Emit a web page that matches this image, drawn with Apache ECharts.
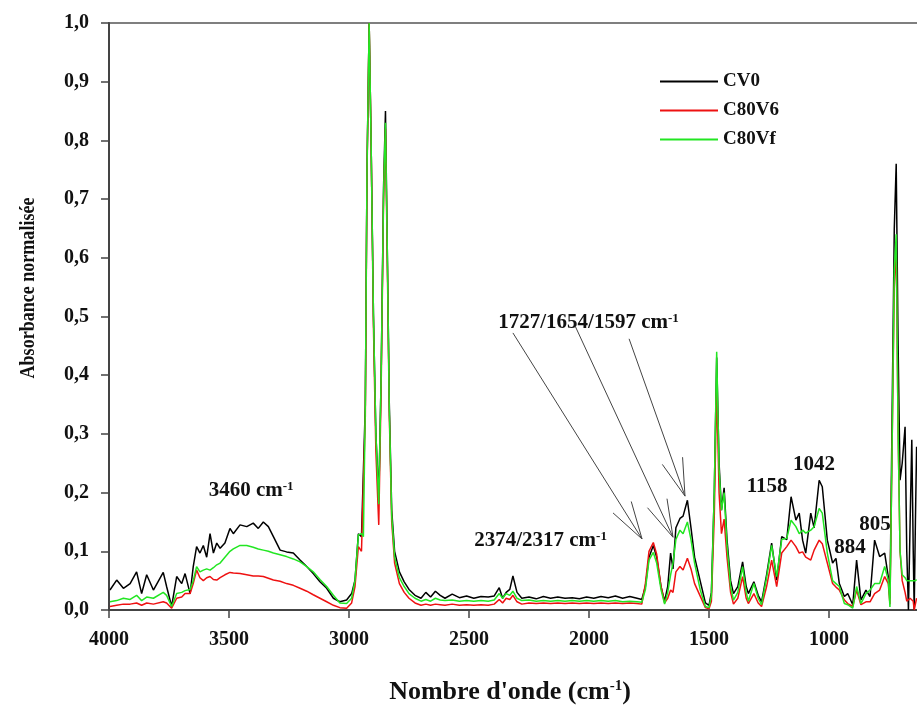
<!DOCTYPE html>
<html>
<head>
<meta charset="utf-8">
<title>Absorbance normalisée</title>
<script src="https://cdn.jsdelivr.net/npm/echarts@6.0.0/dist/echarts.min.js"></script>
<style>
  html, body { margin: 0; padding: 0; background: #fff; }
  #main { width: 917px; height: 710px; }
</style>
</head>
<body>
<div id="main"></div>
<script>
// nombres d'onde (cm-1)
var wn = [
  3996,3968,3940,3912,3885, 3864,3843,3815,3774,3760, 3739,3718,3697,3683,3662, 3649,3635,3621,3607,3593,
  3579,3565,3551,3537,3517, 3496,3482,3454,3426,3399, 3378,3357,3336,3315,3287, 3260,3232,3204,3176,3149,
  3121,3093,3065,3038,3010, 2989,2975,2961,2948,2940,
  2932,2925,2916,2908,2898, 2888,2876,2866,2856,2848, 2840,2832,2822,2810,2790, 2770,2750,2725,2700,
  2680,2660,2640,2620,2600, 2570,2540,2510,2480,2450, 2420,2395,2374,2360,2345, 2330,2317,2300,
  2280,2250,2220,2190,2160, 2130,2100,2070,2040,2010, 1980,1950,1920,1890,1860, 1830,1800,1780,
  1765,1750,1732,1718,1700, 1685,1672,1660,1650,1638, 1621,1608,1590,1575,1560, 1537,1515,1500,
  1490,1478,1468,1458,1448, 1437,1425,1410,1398,1380, 1360,1345,1336,1313,1295, 1281,
  1260,1239,1218,1197,1176, 1158,1138,1124,1110,1097, 1076,1062,1041,1028,1007, 985,971,957,
  936,922,901,885,867, 846,829,810,789,768, 753,746,
  738,728,720,712,704, 695,683,676,669,662, 655,649,645,640,635
];

var cv0 = [
  0.034,0.051,0.037,0.045,0.065, 0.028,0.06,0.034,0.064,0.04, 0.006,0.057,0.045,0.062,0.028, 0.074,0.108,0.097,0.11,0.09,
  0.13,0.097,0.114,0.105,0.114, 0.139,0.13,0.145,0.142,0.148, 0.139,0.15,0.142,0.125,0.102, 0.099,0.097,0.085,0.074,0.062,
  0.048,0.037,0.02,0.014,0.017, 0.028,0.051,0.13,0.125,0.122,
  0.35,0.75,1.0,0.8,0.5, 0.3,0.19,0.4,0.72,0.85, 0.6,0.35,0.17,0.1,0.065, 0.048,0.035,0.025,0.02,
  0.03,0.022,0.032,0.025,0.02, 0.027,0.021,0.024,0.02,0.023, 0.022,0.024,0.038,0.02,0.03, 0.035,0.058,0.03,
  0.02,0.022,0.019,0.023,0.02, 0.022,0.02,0.021,0.019,0.022, 0.02,0.023,0.021,0.024,0.02, 0.023,0.02,0.018,
  0.04,0.09,0.11,0.09,0.04, 0.015,0.04,0.097,0.07,0.14, 0.156,0.16,0.187,0.14,0.09, 0.05,0.012,0.008,
  0.03,0.2,0.43,0.25,0.17, 0.208,0.12,0.05,0.028,0.04, 0.082,0.04,0.028,0.048,0.025, 0.014,
  0.06,0.114,0.051,0.125,0.12, 0.193,0.153,0.165,0.119,0.097, 0.165,0.14,0.221,0.21,0.119, 0.08,0.088,0.045,
  0.023,0.028,0.009,0.085,0.017, 0.034,0.023,0.119,0.091,0.097, 0.057,0.02,
  0.3,0.65,0.76,0.45,0.221, 0.25,0.312,0.1,0.0,0.15, 0.29,0.1,0.0,0.15,0.278
];

var c80v6 = [
  0.006,0.008,0.01,0.01,0.012, 0.008,0.012,0.01,0.014,0.012, 0.003,0.02,0.022,0.028,0.028, 0.045,0.068,0.055,0.05,0.055,
  0.057,0.052,0.051,0.055,0.06, 0.064,0.063,0.062,0.06,0.058, 0.058,0.057,0.054,0.051,0.049, 0.045,0.042,0.037,0.032,0.026,
  0.02,0.014,0.008,0.004,0.003, 0.012,0.04,0.108,0.1,0.097,
  0.33,0.74,1.0,0.8,0.48, 0.27,0.145,0.38,0.7,0.82, 0.58,0.33,0.15,0.08,0.045, 0.03,0.02,0.012,0.008,
  0.01,0.008,0.01,0.009,0.008, 0.01,0.008,0.009,0.008,0.009, 0.008,0.01,0.018,0.012,0.02, 0.018,0.025,0.014,
  0.01,0.012,0.011,0.012,0.011, 0.012,0.011,0.012,0.011,0.012, 0.011,0.012,0.011,0.012,0.011, 0.012,0.011,0.01,
  0.045,0.1,0.115,0.095,0.04, 0.012,0.02,0.034,0.03,0.065, 0.074,0.068,0.088,0.07,0.045, 0.024,0.004,0.002,
  0.015,0.16,0.38,0.2,0.13, 0.155,0.09,0.03,0.01,0.02, 0.057,0.02,0.011,0.028,0.012, 0.006,
  0.04,0.085,0.04,0.097,0.108, 0.119,0.108,0.097,0.099,0.09, 0.085,0.102,0.119,0.113,0.08, 0.045,0.039,0.034,
  0.017,0.011,0.006,0.034,0.009, 0.014,0.014,0.028,0.034,0.057, 0.045,0.01,
  0.25,0.55,0.62,0.3,0.1, 0.05,0.03,0.015,0.012,0.02, 0.02,0.015,0.0,0.01,0.02
];

var c80vf = [
  0.014,0.016,0.02,0.018,0.025, 0.016,0.022,0.02,0.03,0.025, 0.006,0.028,0.03,0.033,0.035, 0.05,0.074,0.065,0.068,0.07,
  0.068,0.072,0.077,0.08,0.09, 0.1,0.104,0.11,0.11,0.107, 0.104,0.102,0.1,0.097,0.094, 0.091,0.087,0.082,0.074,0.065,
  0.052,0.04,0.025,0.012,0.011, 0.02,0.05,0.128,0.13,0.125,
  0.35,0.75,1.0,0.8,0.5, 0.3,0.18,0.4,0.71,0.83, 0.6,0.34,0.16,0.09,0.055, 0.04,0.028,0.02,0.015,
  0.018,0.015,0.02,0.017,0.016, 0.017,0.015,0.016,0.015,0.016, 0.015,0.017,0.028,0.02,0.028, 0.025,0.032,0.02,
  0.016,0.017,0.015,0.016,0.015, 0.016,0.015,0.016,0.015,0.016, 0.015,0.016,0.015,0.016,0.014, 0.015,0.014,0.013,
  0.035,0.085,0.098,0.08,0.035, 0.01,0.03,0.06,0.08,0.12, 0.136,0.13,0.15,0.12,0.08, 0.035,0.006,0.004,
  0.025,0.2,0.44,0.24,0.17, 0.2,0.11,0.04,0.017,0.03, 0.074,0.03,0.015,0.045,0.02, 0.009,
  0.055,0.11,0.057,0.12,0.122, 0.153,0.142,0.13,0.136,0.131, 0.136,0.142,0.173,0.165,0.097, 0.05,0.045,0.04,
  0.011,0.009,0.003,0.04,0.011, 0.028,0.034,0.045,0.045,0.074, 0.051,0.005,
  0.25,0.58,0.64,0.3,0.1, 0.06,0.055,0.05,0.048,0.05, 0.052,0.05,0.048,0.05,0.052
];

var seriesNames = ['CV0', 'C80V6', 'C80Vf'];
var xTicks = [4000, 3500, 3000, 2500, 2000, 1500, 1000];

// annotations (en coordonnées des données)
var noteText = ['3460 cm{sup|-1}', '2374/2317 cm{sup|-1}', '1727/1654/1597 cm{sup|-1}', '1158', '1042', '884', '805'];
var noteWn = [3408, 2202, 2002, 1258, 1062, 912, 808];
var noteAbs = [0.204, 0.119, 0.49, 0.21, 0.247, 0.106, 0.145];
var arrowFrom = [[2317, 0.472], [2058, 0.484], [1833, 0.462]];
var arrowTo = [[1779, 0.121], [1650, 0.124], [1600, 0.194]];

var FONT = '"Liberation Serif", "Times New Roman", serif';
var AXIS_COLOR = '#444';

function pairs(vals) {
    return wn.map(function (w, i) { return [w, vals[i]]; });
}

var myChart = echarts.init(document.getElementById('main'));

var option = {
    animation: false,
    // la figure d'origine est rognée à droite : la zone de tracé dépasse le canevas
    grid: {
        left: 109, top: 23, width: 840, height: 587,
        outerBoundsMode: 'none',
        show: true, borderColor: '#555', borderWidth: 1.5
    },
    legend: {
        orient: 'vertical',
        left: 660, top: 72, padding: 0,
        itemWidth: 58, itemHeight: 20, itemGap: 10,
        icon: 'path://M0,0 L58,0 L58,2 L0,2 Z',
        textStyle: {fontFamily: FONT, fontWeight: 'bold', fontSize: 19, color: '#111'},
        data: seriesNames
    },
    xAxis: {
        type: 'value',
        inverse: true,
        min: 500, max: 4000, interval: 500,
        axisLine: {lineStyle: {color: AXIS_COLOR, width: 2}},
        axisTick: {length: 8, lineStyle: {color: AXIS_COLOR, width: 1.5}, customValues: xTicks},
        axisLabel: {
            margin: 20, fontFamily: FONT, fontWeight: 'bold', fontSize: 20, color: '#111',
            customValues: xTicks,
            formatter: function (v) { return String(v); }
        },
        splitLine: {show: false}
    },
    yAxis: {
        type: 'value',
        min: 0, max: 1, interval: 0.1,
        axisLine: {show: true, lineStyle: {color: AXIS_COLOR, width: 2}},
        axisTick: {show: true, length: 8, lineStyle: {color: AXIS_COLOR, width: 1.5}},
        axisLabel: {
            margin: 20, fontFamily: FONT, fontWeight: 'bold', fontSize: 20, color: '#111',
            formatter: function (v) { return v.toFixed(1).replace('.', ','); }
        },
        splitLine: {show: false}
    },
    series: [
        {name: 'CV0', type: 'line', data: pairs(cv0), color: '#000000'},
        {name: 'C80V6', type: 'line', data: pairs(c80v6), color: '#ee1111'},
        {name: 'C80Vf', type: 'line', data: pairs(c80vf), color: '#22e622'}
    ].map(function (s) {
        s.symbol = 'none';
        s.showSymbol = false;
        s.lineStyle = {width: 1.5};
        s.clip = true;
        return s;
    })
};

myChart.setOption(option);

// textes et flèches placés via les axes
var textRich = {
    sup: {fontFamily: FONT, fontWeight: 'bold', fontSize: 13, verticalAlign: 'top', fill: '#111'}
};
var els = [];
noteText.forEach(function (t, i) {
    var p = myChart.convertToPixel({xAxisIndex: 0, yAxisIndex: 0}, [noteWn[i], noteAbs[i]]);
    els.push({
        type: 'text', x: p[0], y: p[1],
        style: {
            text: t, fill: '#111', font: 'bold 21px ' + FONT,
            align: 'center', verticalAlign: 'middle', rich: textRich
        }
    });
});
arrowFrom.forEach(function (a, i) {
    var p0 = myChart.convertToPixel({xAxisIndex: 0, yAxisIndex: 0}, a);
    var p1 = myChart.convertToPixel({xAxisIndex: 0, yAxisIndex: 0}, arrowTo[i]);
    var lineStyle = {stroke: '#444', lineWidth: 1};
    els.push({type: 'line', shape: {x1: p0[0], y1: p0[1], x2: p1[0], y2: p1[1]}, style: lineStyle});
    var ang = Math.atan2(p0[1] - p1[1], p0[0] - p1[0]);
    [-1, 1].forEach(function (sgn) {
        var b = ang + sgn * 16 * Math.PI / 180;
        els.push({
            type: 'line',
            shape: {x1: p1[0], y1: p1[1], x2: p1[0] + 39 * Math.cos(b), y2: p1[1] + 39 * Math.sin(b)},
            style: lineStyle
        });
    });
});
// titres des axes
els.push({
    type: 'text', x: 510, y: 692,
    style: {
        text: "Nombre d'onde (cm{sup|-1})", fill: '#111', font: 'bold 26px ' + FONT,
        align: 'center', verticalAlign: 'middle',
        rich: {sup: {fontFamily: FONT, fontWeight: 'bold', fontSize: 15, verticalAlign: 'top', fill: '#111'}}
    }
});
els.push({
    type: 'text', x: 28, y: 288, rotation: Math.PI / 2, scaleX: 0.82,
    style: {
        text: 'Absorbance normalisée', fill: '#111', font: 'bold 22px ' + FONT,
        align: 'center', verticalAlign: 'middle'
    }
});
myChart.setOption({graphic: els});
</script>
</body>
</html>
